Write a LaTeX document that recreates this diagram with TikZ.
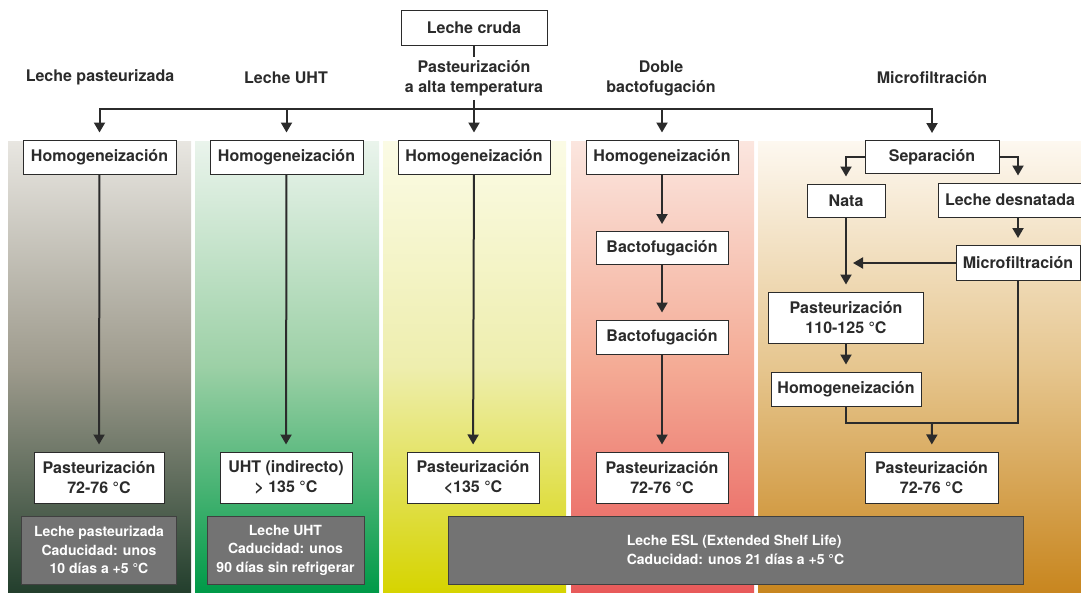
\documentclass[tikz,border=0pt]{standalone}
\usepackage{fontspec}
\setmainfont{TeX Gyre Heros}
\usepackage{tikz}
\usetikzlibrary{arrows.meta}

\definecolor{ink}{HTML}{2B2B2B}
\definecolor{boxgray}{HTML}{737373}
\definecolor{bgAt}{HTML}{E8E6E1}\definecolor{bgAm}{HTML}{9E9B8D}\definecolor{bgAb}{HTML}{233F2D}
\definecolor{bgBt}{HTML}{EAF4EC}\definecolor{bgBm}{HTML}{9CD0A6}\definecolor{bgBb}{HTML}{009A48}
\definecolor{bgCt}{HTML}{FBFBE5}\definecolor{bgCm}{HTML}{EEEEAE}\definecolor{bgCb}{HTML}{D6D400}
\definecolor{bgDt}{HTML}{FBE6DF}\definecolor{bgDm}{HTML}{F4AB95}\definecolor{bgDb}{HTML}{E85A5A}
\definecolor{bgEt}{HTML}{FDF8F0}\definecolor{bgEm}{HTML}{E6C68F}\definecolor{bgEb}{HTML}{C8861F}

\begin{document}
\begin{tikzpicture}[x=1pt, y=-1pt,
  font=\fontsize{16}{20}\selectfont\bfseries, text=ink,
  box/.style={draw=ink, line width=1pt, fill=white, align=center, inner sep=0pt},
  info/.style={draw=ink!90, line width=1pt, fill=boxgray, text=white, align=center,
    inner sep=0pt, font=\fontsize{14}{18.5}\selectfont\bfseries},
  head/.style={align=center},
  line/.style={draw=ink, line width=2pt},
  arr/.style={line, -{Triangle[length=10pt,width=11pt]}, shorten >=7pt}]
  \useasboundingbox (0,0) rectangle (1081,592);

  % column backgrounds
  \shade[top color=bgAt, bottom color=bgAb, middle color=bgAm] (8,141) rectangle (191,592);
  \shade[top color=bgBt, bottom color=bgBb, middle color=bgBm] (195,141) rectangle (379,592);
  \shade[top color=bgCt, bottom color=bgCb, middle color=bgCm] (383,141) rectangle (566,592);
  \shade[top color=bgDt, bottom color=bgDb, middle color=bgDm] (571,141) rectangle (754,592);
  \shade[top color=bgEt, bottom color=bgEb, middle color=bgEm] (758,141) rectangle (1081,592);

  % top
  \node[box, minimum width=146pt, minimum height=35pt] (cruda) at (474,27.5) {Leche cruda};
  \node[head] (hpast) at (100,77.5) {Leche pasteurizada};
  \node[head] (huht) at (286,77.5) {Leche UHT};
  \node[head] (halta) at (474,78.5) {Pasteurización\\a alta temperatura};
  \node[head] (hbacto) at (661,78.5) {Doble\\bactofugación};
  \node[head] (hmicro) at (932,77.5) {Microfiltración};
  \coordinate (bar) at (474,109);

  % leche pasteurizada
  \node[box, minimum width=153pt, minimum height=34pt] (h1) at (99.5,157) {Homogeneización};
  \node[box, minimum width=130pt, minimum height=51pt] (p1) at (99,477.5) {Pasteurización\\72-76 °C};
  \node[info, minimum width=155pt, minimum height=68pt] (g1) at (99,550)
    {Leche pasteurizada\\Caducidad: unos\\10 días a +5 °C};

  % leche UHT
  \node[box, minimum width=153pt, minimum height=34pt] (h2) at (286.5,157) {Homogeneización};
  \node[box, minimum width=132pt, minimum height=51pt] (p2) at (286,477.5) {UHT (indirecto)\\> 135 °C};
  \node[info, minimum width=157pt, minimum height=68pt] (g2) at (285.5,550)
    {Leche UHT\\Caducidad: unos\\90 días sin refrigerar};

  % alta temperatura
  \node[box, minimum width=152pt, minimum height=34pt] (h3) at (474,157) {Homogeneización};
  \node[box, minimum width=132pt, minimum height=51pt] (p3) at (473,477.5) {Pasteurización\\<135 °C};

  % doble bactofugacion
  \node[box, minimum width=152pt, minimum height=34pt] (h4) at (662,157) {Homogeneización};
  \node[box, minimum width=132pt, minimum height=33pt] (b1) at (662,248) {Bactofugación};
  \node[box, minimum width=132pt, minimum height=34pt] (b2) at (662,337) {Bactofugación};
  \node[box, minimum width=132pt, minimum height=51pt] (p4) at (662,477.5) {Pasteurización\\72-76 °C};

  % microfiltracion
  \node[box, minimum width=134pt, minimum height=33pt] (sep) at (932,157) {Separación};
  \node[box, minimum width=78pt, minimum height=33pt] (nata) at (846,200.5) {Nata};
  \node[box, minimum width=143pt, minimum height=34pt] (desn) at (1010,200) {Leche desnatada};
  \node[box, minimum width=124pt, minimum height=35pt] (micro) at (1018,263) {Microfiltración};
  \node[box, minimum width=155pt, minimum height=51pt] (past110) at (846,317.5) {Pasteurización\\110-125 °C};
  \node[box, minimum width=150pt, minimum height=34pt] (homog5) at (846,389) {Homogeneización};
  \node[box, minimum width=133pt, minimum height=51pt] (p5) at (931.5,477.5) {Pasteurización\\72-76 °C};
  \coordinate (join) at (932,423);

  \node[info, minimum width=575pt, minimum height=68pt, align=left] (g3) at (735.5,550)
    {Leche ESL (Extended Shelf Life)\\Caducidad: unos 21 días a +5 °C};

  % connectors
  \draw[line] (cruda) -- (halta);
  \draw[line] (halta) -- (bar);
  \draw[line, line cap=rect] (bar -| h1) -- (bar -| sep);
  \foreach \n in {h1,h2,h3,h4,sep}
    \draw[arr] (bar -| \n) -- (\n);
  \draw[arr] (h1) -- (p1);
  \draw[arr] (h2) -- (p2);
  \draw[arr] (h3) -- (p3);
  \draw[arr] (h4) -- (b1);
  \draw[arr] (b1) -- (b2);
  \draw[arr] (b2) -- (p4);
  \draw[arr] (sep.west) -| (nata);
  \draw[arr] (sep.east) -| (desn.north -| micro);
  \draw[arr] (desn.south -| micro) -- (micro);
  \draw[arr] (micro.west) -- (micro.west -| nata);
  \draw[arr] (nata) -- (past110);
  \draw[arr] (past110) -- (homog5);
  \draw[line] (homog5) |- (join) -| (micro);
  \draw[arr] (join) -- (p5);
\end{tikzpicture}
\end{document}
